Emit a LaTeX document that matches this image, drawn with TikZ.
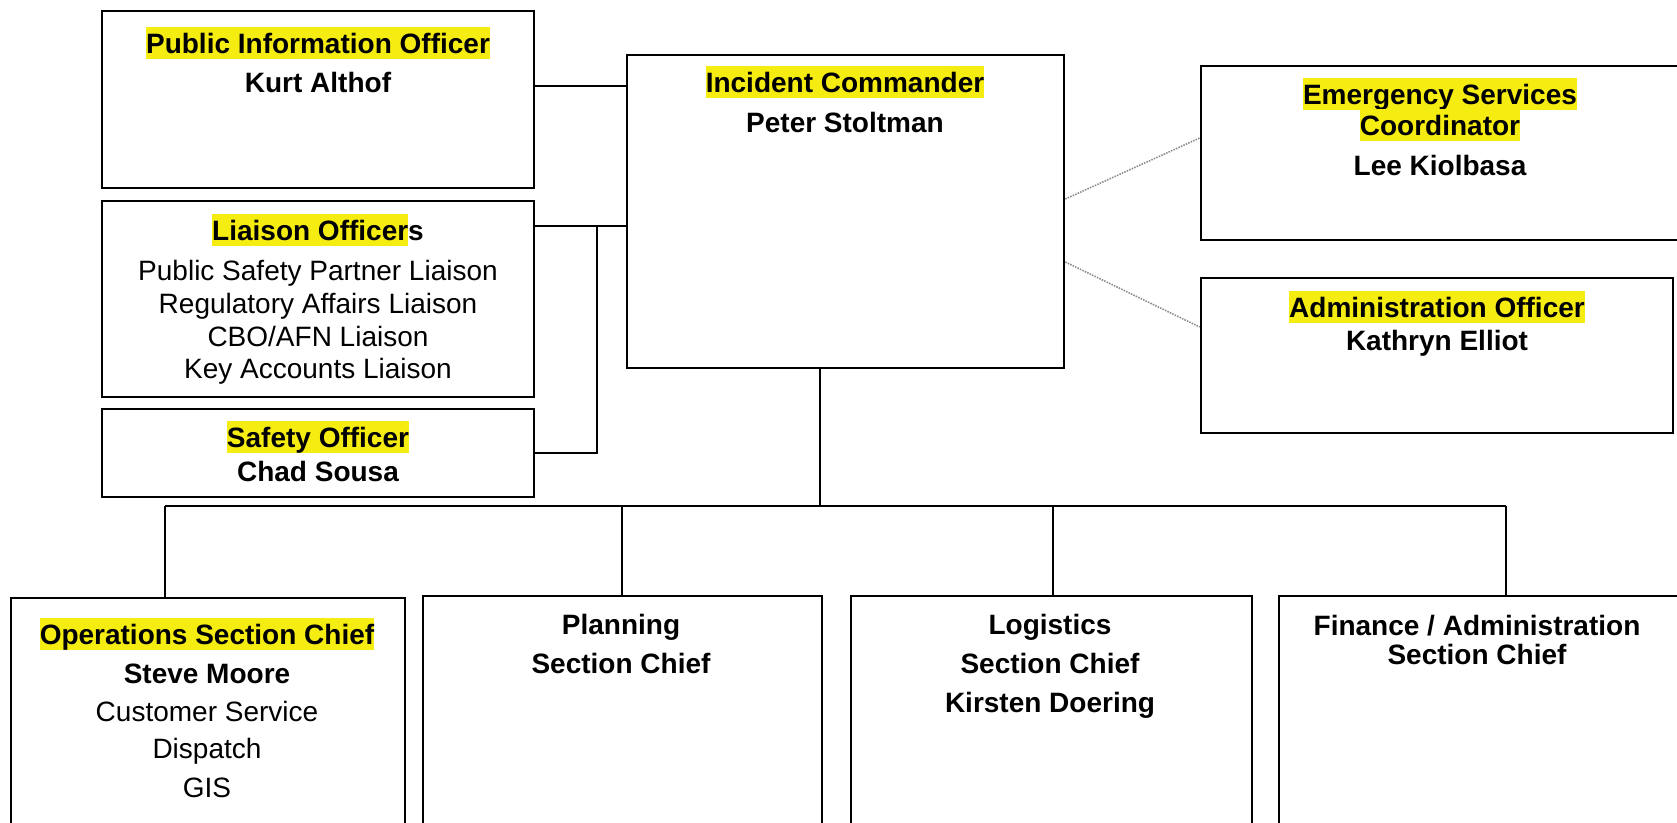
\documentclass[tikz,border=0pt]{standalone}
\usepackage{fontspec}
\setmainfont{Liberation Sans}
\usetikzlibrary{fit}
\definecolor{hly}{RGB}{245,236,18}
\definecolor{dotgray}{RGB}{140,140,140}
\newcommand\hl[1]{{\setlength{\fboxsep}{0pt}\colorbox{hly}{\rule[-0.2em]{0pt}{1.12em}#1}}}
\begin{document}
\begin{tikzpicture}[x=1pt,y=-1pt,
  box/.style={draw, line width=2.6pt, inner sep=0pt},
  ln/.style={line width=2pt},
  dl/.style={draw=dotgray, line width=1.6pt, dash pattern=on 1.5pt off 1.2pt},
  tb/.style={anchor=base, inner sep=0pt, font=\fontsize{28}{33}\selectfont\bfseries},
  tr/.style={anchor=base, inner sep=0pt, font=\fontsize{28}{33}\selectfont}]
\useasboundingbox (0,0) rectangle (1677,822);
\fill[white] (0,0) rectangle (1677,822);

% boxes
\node[box, fit={(102,11) (534,188)}] (pio) {};
\node[box, fit={(102,201) (534,397)}] (li) {};
\node[box, fit={(102,409) (534,497)}] (saf) {};
\node[box, fit={(627,55) (1064,368)}] (ic) {};
\node[box, fit={(1201,66) (1695,240)}] (esc) {};
\node[box, fit={(1201,278) (1673,433)}] (adm) {};
\node[box, fit={(11,598) (405,850)}] (ops) {};
\node[box, fit={(423,596) (822,850)}] (pla) {};
\node[box, fit={(851,596) (1252,850)}] (log) {};
\node[box, fit={(1279,596) (1695,850)}] (fin) {};

% texts
\node[tb] (pio1) at (318,53) {\hl{Public Information Officer}};
\node[tb] (pio2) at (318,92) {Kurt Althof};

\node[tb] (ic1) at (845,92) {\hl{Incident Commander}};
\node[tb] (ic2) at (845,132) {Peter Stoltman};

\node[tb] (li1) at (318,240) {\hl{Liaison Officer}s};
\node[tr] (li2) at (318,280) {Public Safety Partner Liaison};
\node[tr] (li3) at (318,313) {Regulatory Affairs Liaison};
\node[tr] (li4) at (318,346) {CBO/AFN Liaison};
\node[tr] (li5) at (318,378) {Key Accounts Liaison};

\node[tb] (saf1) at (318,447) {\hl{Safety Officer}};
\node[tb] (saf2) at (318,481) {Chad Sousa};

\node[tb] (esc1) at (1440,104) {\hl{Emergency Services}};
\node[tb] (esc2) at (1440,135) {\hl{Coordinator}};
\node[tb] (esc3) at (1440,175) {Lee Kiolbasa};

\node[tb] (adm1) at (1437,317) {\hl{Administration Officer}};
\node[tb] (adm2) at (1437,350) {Kathryn Elliot};

\node[tb] (ops1) at (207,644) {\hl{Operations Section Chief}};
\node[tb] (ops2) at (207,683) {Steve Moore};
\node[tr] (ops3) at (207,721) {Customer Service};
\node[tr] (ops4) at (207,758) {Dispatch};
\node[tr] (ops5) at (207,797) {GIS};

\node[tb] (pla1) at (621,634) {Planning};
\node[tb] (pla2) at (621,673) {Section Chief};

\node[tb] (log1) at (1050,634) {Logistics};
\node[tb] (log2) at (1050,673) {Section Chief};
\node[tb] (log3) at (1050,712) {Kirsten Doering};

\node[tb] (fin1) at (1477,635) {Finance / Administration};
\node[tb] (fin2) at (1477,664) {Section Chief};

% connectors
\coordinate (c1) at (580,86);
\coordinate (c2) at (597,226);
\draw[ln] (pio.east |- c1) -- (ic.west |- c1);
\draw[ln] (li.east |- c2) -- (ic.west |- c2);
\draw[ln] (c2) |- (saf.east);

\coordinate (bus) at (820,506);
\coordinate (bl) at (165,506);
\coordinate (b2) at (622,506);
\coordinate (b3) at (1053,506);
\coordinate (br) at (1506,506);
\draw[ln] (ic.south -| bus) -- (bus);
\draw[line width=2.6pt] (bl) -- (br);
\draw[ln] (bl) -- (ops.north -| bl);
\draw[ln] (b2) -- (pla.north -| b2);
\draw[ln] (b3) -- (log.north -| b3);
\draw[ln] (br) -- (fin.north -| br);

\coordinate (d1a) at (1064,199);
\coordinate (d1b) at (1201,138);
\coordinate (d2a) at (1064,262);
\coordinate (d2b) at (1201,327);
\draw[dl] (ic.east |- d1a) -- (esc.west |- d1b);
\draw[dl] (ic.east |- d2a) -- (adm.west |- d2b);
\end{tikzpicture}
\end{document}
